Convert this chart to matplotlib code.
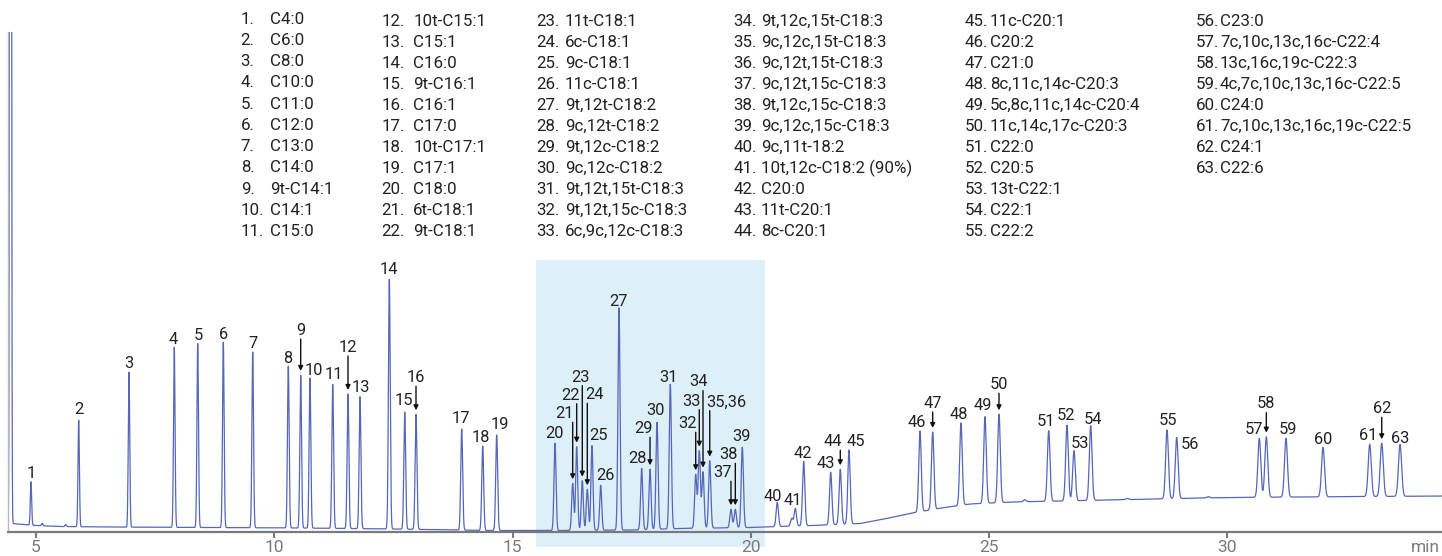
import numpy as np
import matplotlib
matplotlib.use("Agg")
import matplotlib.pyplot as plt
from matplotlib.patches import Rectangle

plt.rcParams['font.family'] = ['Roboto', 'DejaVu Sans']

# numbered peaks: label, retention time (min), apex height (detector units)
peak_labels = ['1', '2', '3', '4', '5', '6', '7', '8', '9', '10',
               '11', '12', '13', '14', '15', '16', '17', '18', '19', '20',
               '21', '22', '23', '24', '25', '26', '27', '28', '29', '30',
               '31', '32', '33', '34', '35,36', '37', '38', '39', '40', '41',
               '42', '43', '44', '45', '46', '47', '48', '49', '50', '51',
               '52', '53', '54', '55', '56', '57', '58', '59', '60', '61',
               '62', '63']
peak_times = [4.895, 5.896, 6.952, 7.902, 8.394, 8.931, 9.548, 10.295, 10.555, 10.750,
              11.227, 11.548, 11.800, 12.415, 12.738, 12.975, 13.934, 14.375, 14.668, 15.892,
              16.263, 16.347, 16.465, 16.570, 16.668, 16.851, 17.235, 17.711, 17.886, 18.033,
              18.312, 18.845, 18.920, 18.998, 19.139, 19.585, 19.676, 19.823, 20.557, 20.935,
              21.111, 21.678, 21.879, 22.062, 23.552, 23.818, 24.412, 24.916, 25.210, 26.253,
              26.637, 26.784, 27.134, 28.736, 28.939, 30.673, 30.820, 31.233, 32.010, 32.990,
              33.242, 33.626]
peak_tops = [50.3, 111.7, 159.7, 184.7, 188.3, 190.0, 180.0, 166.0, 157.0, 153.7,
             147.7, 138.0, 135.3, 253.0, 120.0, 117.7, 103.0, 86.0, 97.0, 88.7,
             48.7, 85.3, 51.3, 42.7, 86.3, 46.7, 224.3, 63.7, 62.7, 109.7,
             147.7, 57.7, 81.3, 60.3, 71.3, 22.7, 22.7, 84.7, 29.7, 23.7,
             70.7, 59.7, 62.7, 82.0, 101.0, 100.0, 109.0, 115.3, 117.7, 101.3,
             106.7, 81.3, 106.3, 102.0, 94.7, 93.7, 95.3, 93.7, 84.7, 87.7,
             88.7, 87.7]

# unlabelled signals: solvent front, small bumps, shoulder of peak 41
minor_times = [4.465, 5.13, 5.62, 20.86, 25.75, 27.9, 29.6]
minor_heights = [3000.0, 2.5, 2.0, 8.0, 2.0, 1.2, 1.2]

# baseline drift
base_times = [4.40, 4.60, 5.0, 5.5, 6.5, 8.5, 10.5, 12.5, 14.5, 16.0, 17.5, 18.5,
              20.0, 20.6, 21.3, 22.3, 22.8, 23.4, 24.0, 24.6, 25.5, 26.5, 27.5,
              28.5, 30.0, 31.5, 33.0, 34.6]
base_values = [9.0, 8.0, 6.5, 5.5, 5.0, 4.5, 4.0, 3.0, 1.5, 1.5, 2.0, 3.5,
               4.5, 5.5, 6.5, 8.5, 13.0, 19.0, 24.0, 28.0, 30.0, 31.0, 32.0,
               33.0, 34.5, 35.0, 35.5, 36.0]

compounds = ['C4:0', 'C6:0', 'C8:0', 'C10:0', 'C11:0', 'C12:0', 'C13:0', 'C14:0',
             '9t-C14:1', 'C14:1', 'C15:0', '10t-C15:1', 'C15:1', 'C16:0', '9t-C16:1',
             'C16:1', 'C17:0', '10t-C17:1', 'C17:1', 'C18:0', '6t-C18:1', '9t-C18:1',
             '11t-C18:1', '6c-C18:1', '9c-C18:1', '11c-C18:1', '9t,12t-C18:2',
             '9c,12t-C18:2', '9t,12c-C18:2', '9c,12c-C18:2', '9t,12t,15t-C18:3',
             '9t,12t,15c-C18:3', '6c,9c,12c-C18:3', '9t,12c,15t-C18:3',
             '9c,12c,15t-C18:3', '9c,12t,15t-C18:3', '9c,12t,15c-C18:3',
             '9t,12c,15c-C18:3', '9c,12c,15c-C18:3', '9c,11t-18:2',
             '10t,12c-C18:2 (90%)', 'C20:0', '11t-C20:1', '8c-C20:1', '11c-C20:1',
             'C20:2', 'C21:0', '8c,11c,14c-C20:3', '5c,8c,11c,14c-C20:4',
             '11c,14c,17c-C20:3', 'C22:0', 'C20:5', '13t-C22:1', 'C22:1', 'C22:2',
             'C23:0', '7c,10c,13c,16c-C22:4', '13c,16c,19c-C22:3',
             '4c,7c,10c,13c,16c-C22:5', 'C24:0', '7c,10c,13c,16c,19c-C22:5',
             'C24:1', 'C22:6']

# label placement (pixels): dx, height of label centre above apex, arrow
label_offsets = {
    '2': (0, 12), '4': (-1, 9), '5': (1, 10), '6': (0, 9), '8': (-1, 9),
    '9': (0, 46, True), '10': (4, 9), '11': (1, 11), '12': (0, 48, True),
    '13': (1, 10), '14': (0, 11), '15': (-1, 13), '16': (0, 38, True),
    '17': (-1, 12), '18': (-2, 10), '19': (3, 12), '20': (-1, 11),
    '21': (-8, 71, True), '22': (-6, 53, True), '23': (-2, 105, True),
    '24': (7, 96, True), '25': (7, 11), '26': (5, 11), '27': (0, 8),
    '28': (-4, 11), '29': (-7, 42, True), '30': (-2, 13), '31': (-2, 8),
    '32': (-8, 52, True), '33': (-8, 51, True), '34': (-5, 91, True),
    '35,36': (17, 60, True), '37': (-8, 38, True), '38': (-7, 56, True),
    '39': (-1, 12), '40': (-5, 7), '41': (-2, 9), '42': (-1, 9), '43': (-5, 10),
    '44': (-7, 29, True), '45': (7, 10), '46': (-3, 10), '47': (0, 30, True),
    '48': (-2, 10), '49': (-2, 13), '50': (0, 31, True), '51': (-3, 10),
    '52': (-1, 11), '53': (6, 8), '54': (2, 8), '55': (1, 11), '56': (13, -6),
    '57': (-5, 10), '58': (0, 34, True), '59': (2, 10), '60': (0, 9),
    '61': (-2, 10), '62': (0, 36, True), '63': (0, 7),
}

LINE = '#5566bb'
TEXT = '#222222'
GREY = '#7a7a7a'
W, H = 1442, 556


def peak_width(t):
    # peaks broaden with retention time
    return 0.014 + 0.00065 * (np.asarray(t) - 5.0)


def build_trace(t):
    """Baseline plus Gaussian peaks whose apexes hit the read heights."""
    all_t = np.array(peak_times + minor_times)
    base_at_peaks = np.interp(all_t, base_times, base_values)
    targets = np.concatenate([np.array(peak_tops) - base_at_peaks[:len(peak_times)],
                              np.array(minor_heights)])
    s = peak_width(all_t)
    G = np.exp(-0.5 * ((all_t[:, None] - all_t[None, :]) / s[None, :]) ** 2)
    amps = np.linalg.solve(G, targets)
    y = np.interp(t, base_times, base_values)
    for a, tc, sc in zip(amps, all_t, s):
        y = y + a * np.exp(-0.5 * ((t - tc) / sc) ** 2)
    return y


fig = plt.figure(figsize=(W / 100, H / 100), dpi=100)
ax = fig.add_axes([7.5 / W, 24 / H, (W - 7.5) / W, 500 / H])

t = np.arange(4.40, 34.55, 0.002)
ax.plot(t, build_trace(t), color=LINE, lw=0.9, zorder=2)

# highlighted C18 region
ax.add_patch(Rectangle((15.49, -15), 4.81, 287, facecolor='#ddeff8',
                       edgecolor='none', zorder=0, clip_on=False))

for lab, tc, top in zip(peak_labels, peak_times, peak_tops):
    off = label_offsets.get(lab, (0, 10))
    dx, dy = off[0], off[1]
    ax.annotate(lab, xy=(tc, top), xytext=(dx, dy - 5.8), textcoords='offset pixels',
                ha='center', va='baseline', fontsize=11.8, color=TEXT, zorder=5)
    if len(off) > 2:
        ax.annotate('', xy=(tc, top + 4), xytext=(tc, top + dy - 10),
                    arrowprops=dict(arrowstyle='-|>', color='#111111', lw=1.0,
                                    shrinkA=0, shrinkB=0, mutation_scale=7),
                    zorder=5)

ax.set_xlim(5 - 28.5 / 47.65, 5 + 1406 / 47.65)
ax.set_ylim(0, 500)
ax.set_yticks([])
ax.set_xticks([5, 10, 15, 20, 25, 30])
ax.tick_params(axis='x', length=4, width=1.5, color=GREY, labelcolor=GREY,
               labelsize=12.5, pad=2)
for side in ('top', 'right'):
    ax.spines[side].set_visible(False)
ax.spines['bottom'].set_color(GREY)
ax.spines['bottom'].set_linewidth(1.6)
ax.spines['left'].set_color('#b8b8b8')
ax.spines['left'].set_linewidth(1.0)
ax.patch.set_alpha(0)

fig.text(1440 / W, 1 - 547 / H, 'min', ha='right', va='center',
         fontsize=12.5, color=GREY)

# compound key, 11 rows per column
num_x = [240.7, 381.7, 536.7, 733.3, 965, 1196]
name_x = [270, 413.3, 565, 760.7, 990, 1220]
for i, name in enumerate(compounds):
    col, row = divmod(i, 11)
    y = (23.6 + 21.27 * row) if col == 0 else (26.0 + 21.0 * row)
    fig.text(num_x[col] / W, 1 - y / H, f'{i + 1}.', ha='left', va='baseline',
             fontsize=12.2, color=TEXT)
    fig.text(name_x[col] / W, 1 - y / H, name, ha='left', va='baseline',
             fontsize=12.2, color=TEXT)

fig.savefig('out.png', dpi=100)
